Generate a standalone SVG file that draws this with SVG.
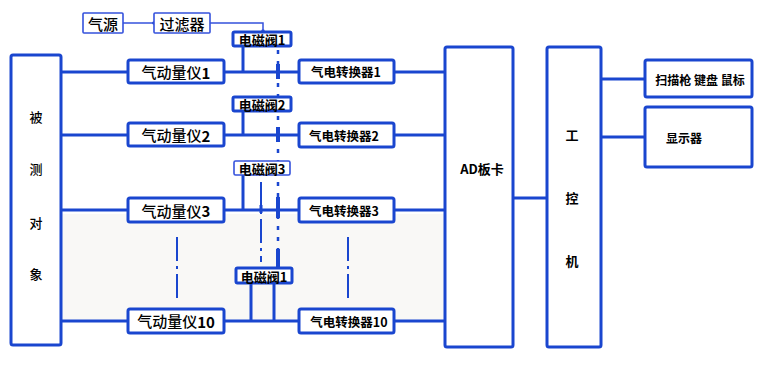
<svg xmlns="http://www.w3.org/2000/svg" width="765" height="376" viewBox="0 0 765 376">
<style>
.box{fill:#fff;stroke:#1a46cf;stroke-width:3}
.thin{fill:#fff;stroke:#3552dc;stroke-width:1.6}
.ln{stroke:#1a46cf;stroke-width:3;fill:none}
.tl{stroke:#3552dc;stroke-width:1.5;fill:none}
.dd{stroke:#1a46cf;stroke-width:2;fill:none;stroke-dasharray:24 5 3 5}
.dt{stroke:#1a46cf;stroke-width:2.5;fill:none;stroke-dasharray:4 7}
.t{font-family:"Noto Sans CJK SC","Liberation Sans",sans-serif;fill:#000;text-anchor:middle;dominant-baseline:central}
.m{font-weight:500}
.b{font-weight:bold}
</style>
<rect x="0" y="0" width="765" height="376" fill="#fff"/>
<rect x="61" y="214" width="384" height="107" fill="#f9f8f6"/>
<g id="connectors">
<line class="tl" x1="123" y1="23" x2="154" y2="23"/>
<circle cx="154" cy="23" r="1.8" fill="#1a46cf"/>
<polyline class="tl" points="210,23 263,23 263,32"/>
<circle cx="263" cy="31" r="1.8" fill="#3552dc"/>
<line class="ln" x1="61" y1="72" x2="128" y2="72"/>
<line class="ln" x1="224" y1="72" x2="299" y2="72"/>
<line class="ln" x1="394" y1="72" x2="445" y2="72"/>
<line class="ln" x1="61" y1="135" x2="128" y2="135"/>
<line class="ln" x1="224" y1="135" x2="299" y2="135"/>
<line class="ln" x1="394" y1="135" x2="445" y2="135"/>
<line class="ln" x1="61" y1="210" x2="128" y2="210"/>
<line class="ln" x1="224" y1="210" x2="299" y2="210"/>
<line class="ln" x1="394" y1="210" x2="445" y2="210"/>
<line class="ln" x1="61" y1="321" x2="128" y2="321"/>
<line class="ln" x1="224" y1="321" x2="299" y2="321"/>
<line class="ln" x1="394" y1="321" x2="445" y2="321"/>
<line class="ln" x1="243" y1="46" x2="243" y2="72"/>
<line class="ln" x1="243" y1="111" x2="243" y2="135"/>
<line class="ln" x1="243" y1="175" x2="243" y2="210"/>
<line class="ln" x1="251" y1="283" x2="251" y2="321"/>
<line class="ln" x1="274" y1="283" x2="274" y2="321"/>
<line class="dt" x1="278" y1="50" x2="278" y2="267"/>
<line stroke="#1a46cf" stroke-width="4" x1="278" y1="64" x2="278" y2="79"/>
<line stroke="#1a46cf" stroke-width="4" x1="278" y1="127" x2="278" y2="142"/>
<line stroke="#1a46cf" stroke-width="4" x1="278" y1="197" x2="278" y2="218"/>
<line stroke="#1a46cf" stroke-width="4" x1="278" y1="249" x2="278" y2="267"/>
<line class="dd" stroke-dasharray="10 5 3 5" x1="261" y1="182" x2="261" y2="262"/>
<line stroke="#1a46cf" stroke-width="3" x1="261" y1="205" x2="261" y2="213"/>
<line class="dd" x1="177" y1="237" x2="177" y2="298"/>
<line class="dd" x1="348" y1="237" x2="348" y2="298"/>
<line class="ln" x1="513" y1="198" x2="547" y2="198"/>
<line class="ln" stroke-width="4.5" x1="601" y1="79" x2="645" y2="79"/>
<line class="ln" stroke-width="4" x1="601" y1="137" x2="645" y2="137"/>
</g>
<g id="object"><rect class="box" x="11" y="55" width="50" height="290" rx="2"/>
<text class="t m" x="36" y="116" font-size="13">被</text>
<text class="t m" x="36" y="168" font-size="13">测</text>
<text class="t m" x="36" y="222" font-size="13">对</text>
<text class="t m" x="36" y="273" font-size="13">象</text></g>
<g id="gas"><rect class="thin" x="83" y="13" width="40" height="20" rx="1"/><text class="t m" x="103" y="23" font-size="15">气源</text></g>
<g id="filter"><rect class="thin" x="154" y="13" width="56" height="20" rx="1"/><text class="t m" x="182" y="23" font-size="15">过滤器</text></g>
<g id="valve1"><rect class="box" stroke-width="2.5" x="233" y="32" width="58" height="14" rx="1.5"/><text class="t b" x="262" y="39.5" font-size="13">电磁阀1</text></g>
<g id="valve2"><rect class="box" stroke-width="2.5" x="233" y="97" width="58" height="14" rx="1.5"/><text class="t b" x="262" y="104.5" font-size="13">电磁阀2</text></g>
<g id="valve3"><rect class="thin" x="234" y="161" width="56" height="14" rx="1.5"/><text class="t b" x="262" y="168.5" font-size="13">电磁阀3</text></g>
<g id="valve10"><rect class="box" stroke-width="2.5" x="236" y="268" width="56" height="15" rx="1.5"/><text class="t b" x="264" y="276" font-size="13">电磁阀1</text></g>
<g id="meter1"><rect class="box" x="128" y="60" width="96" height="23" rx="2"/><text class="t m" x="176" y="71.5" font-size="15">气动量仪<tspan class="b">1</tspan></text></g>
<g id="meter2"><rect class="box" x="128" y="123" width="96" height="23" rx="2"/><text class="t m" x="176" y="134.5" font-size="15">气动量仪<tspan class="b">2</tspan></text></g>
<g id="meter3"><rect class="box" x="128" y="198" width="96" height="24" rx="2"/><text class="t m" x="176" y="210" font-size="15">气动量仪<tspan class="b">3</tspan></text></g>
<g id="meter10"><rect class="box" x="128" y="309" width="96" height="24" rx="2"/><text class="t m" x="176" y="320.5" font-size="15">气动量仪<tspan class="b">10</tspan></text></g>
<g id="conv1"><rect class="box" x="299" y="60" width="95" height="23" rx="2"/><text class="t b" x="346" y="71.5" font-size="12.5">气电转换器1</text></g>
<g id="conv2"><rect class="box" x="299" y="123" width="95" height="24" rx="2"/><text class="t b" x="344" y="135" font-size="12.5">气电转换器2</text></g>
<g id="conv3"><rect class="box" x="299" y="198" width="95" height="24" rx="2"/><text class="t b" x="344" y="210" font-size="12.5">气电转换器3</text></g>
<g id="conv10"><rect class="box" x="299" y="309" width="95" height="24" rx="2"/><text class="t b" x="349" y="321" font-size="12.5">气电转换器10</text></g>
<g id="ad"><rect class="box" x="445" y="47" width="68" height="300" rx="2"/><text class="t b" x="482" y="168" font-size="13">AD板卡</text></g>
<g id="ipc"><rect class="box" x="547" y="47" width="54" height="300" rx="2"/>
<text class="t b" x="572" y="134" font-size="13">工</text>
<text class="t b" x="572" y="197" font-size="13">控</text>
<text class="t b" x="572" y="260" font-size="13">机</text></g>
<g id="input"><rect class="box" x="645" y="60" width="107" height="37" rx="2"/><text class="t b" x="700" y="79" font-size="12">扫描枪 键盘 鼠标</text></g>
<g id="display"><rect class="box" x="645" y="107" width="107" height="60" rx="2"/><text class="t b" x="684" y="137" font-size="12">显示器</text></g>
</svg>
